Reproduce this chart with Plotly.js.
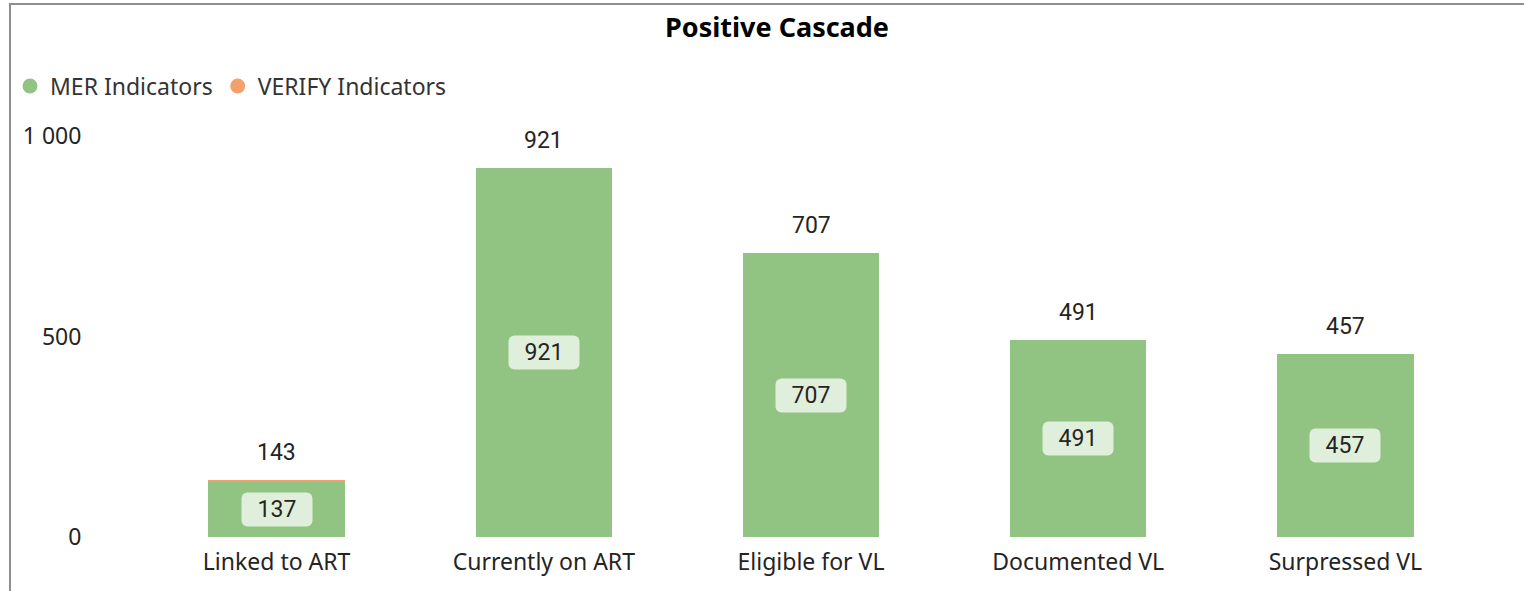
<!DOCTYPE html>
<html>
<head>
<meta charset="utf-8">
<script src="https://cdn.plot.ly/plotly-3.0.1.min.js"></script>
<style>
  html, body { margin: 0; padding: 0; background: #ffffff; }
  #chart { position: absolute; left: 0; top: 0; width: 1524px; height: 591px; }
  #frame { position: absolute; left: 9px; top: 3px; width: 1515px; height: 588px;
           border-left: 2px solid #8e8e8e; border-top: 2px solid #8e8e8e; pointer-events: none; }
</style>
</head>
<body>
<div id="chart"></div>
<div id="frame"></div>
<script>
const categories = ["Linked to ART", "Currently on ART", "Eligible for VL", "Documented VL", "Surpressed VL"];
const merValues = [137, 921, 707, 491, 457];
const verifyValues = [6, 0, 0, 0, 0];
const totalLabels = [143, 921, 707, 491, 457];
const yTicks = [0, 500, 1000];

const GREEN = "#91c483";
const ORANGE = "#f2a06c";
const TEXT = "#252423";

const traces = [
  { type: "bar", x: categories, y: merValues, marker: { color: GREEN }, showlegend: false, hoverinfo: "x+y", name: "MER Indicators" },
  { type: "bar", x: categories, y: verifyValues, marker: { color: ORANGE }, showlegend: false, hoverinfo: "x+y", name: "VERIFY Indicators" },
  { type: "scatter", mode: "markers", x: [null], y: [null], name: "MER Indicators", marker: { color: GREEN, size: 15, symbol: "circle" } },
  { type: "scatter", mode: "markers", x: [null], y: [null], name: "VERIFY Indicators", marker: { color: ORANGE, size: 15, symbol: "circle" } }
];

const annotations = [];
categories.forEach((c, i) => {
  annotations.push({
    x: c, y: totalLabels[i], xref: "x", yref: "y", text: String(totalLabels[i]),
    showarrow: false, yanchor: "bottom", yshift: 12,
    font: { family: "Roboto, 'DejaVu Sans'", size: 23, color: TEXT }
  });
  annotations.push({
    x: c, y: merValues[i] / 2, xref: "x", yref: "y", text: String(merValues[i]),
    showarrow: false, yanchor: "middle", width: 70, height: 33, borderpad: 0,
    bgcolor: "rgba(255,255,255,0.72)",
    font: { family: "Roboto, 'DejaVu Sans'", size: 23, color: TEXT }
  });
});

const layout = {
  width: 1524, height: 591,
  paper_bgcolor: "rgba(0,0,0,0)", plot_bgcolor: "rgba(0,0,0,0)",
  margin: { l: 143, r: 45, t: 136, b: 54 },
  barmode: "stack", bargap: 0.49,
  separators: ". ",
  font: { family: "'Noto Sans', 'Open Sans', sans-serif", color: TEXT },
  title: {
    text: "<b>Positive Cascade</b>", x: 777 / 1524, xanchor: "center", xref: "container",
    y: 1 - 28 / 591, yanchor: "middle", yref: "container",
    font: { family: "'Noto Sans', 'Open Sans', sans-serif", size: 27, color: "#000000" }
  },
  legend: {
    orientation: "h", xref: "container", yref: "container",
    x: 10 / 1524, xanchor: "left", y: 1 - 86 / 591, yanchor: "middle",
    font: { size: 23, color: "#333333" }, itemclick: false, traceorder: "normal"
  },
  xaxis: {
    type: "category", showgrid: false, zeroline: false, showline: false,
    ticks: "outside", ticklen: 4, tickcolor: "rgba(0,0,0,0)",
    tickfont: { size: 23, color: TEXT }, fixedrange: true
  },
  yaxis: {
    range: [0, 1000], tickvals: yTicks, tickformat: ",d", separatethousands: true,
    showgrid: false, zeroline: false, showline: false,
    ticks: "outside", ticklen: 56, tickcolor: "rgba(0,0,0,0)",
    tickfont: { size: 23, color: TEXT }, fixedrange: true
  },
  annotations: annotations
};

Plotly.newPlot("chart", traces, layout, { displayModeBar: false, staticPlot: true }).then(() => {
  document.querySelectorAll("#chart .annotation rect.bg").forEach(r => {
    r.setAttribute("rx", 6); r.setAttribute("ry", 6);
  });
});
</script>
</body>
</html>
